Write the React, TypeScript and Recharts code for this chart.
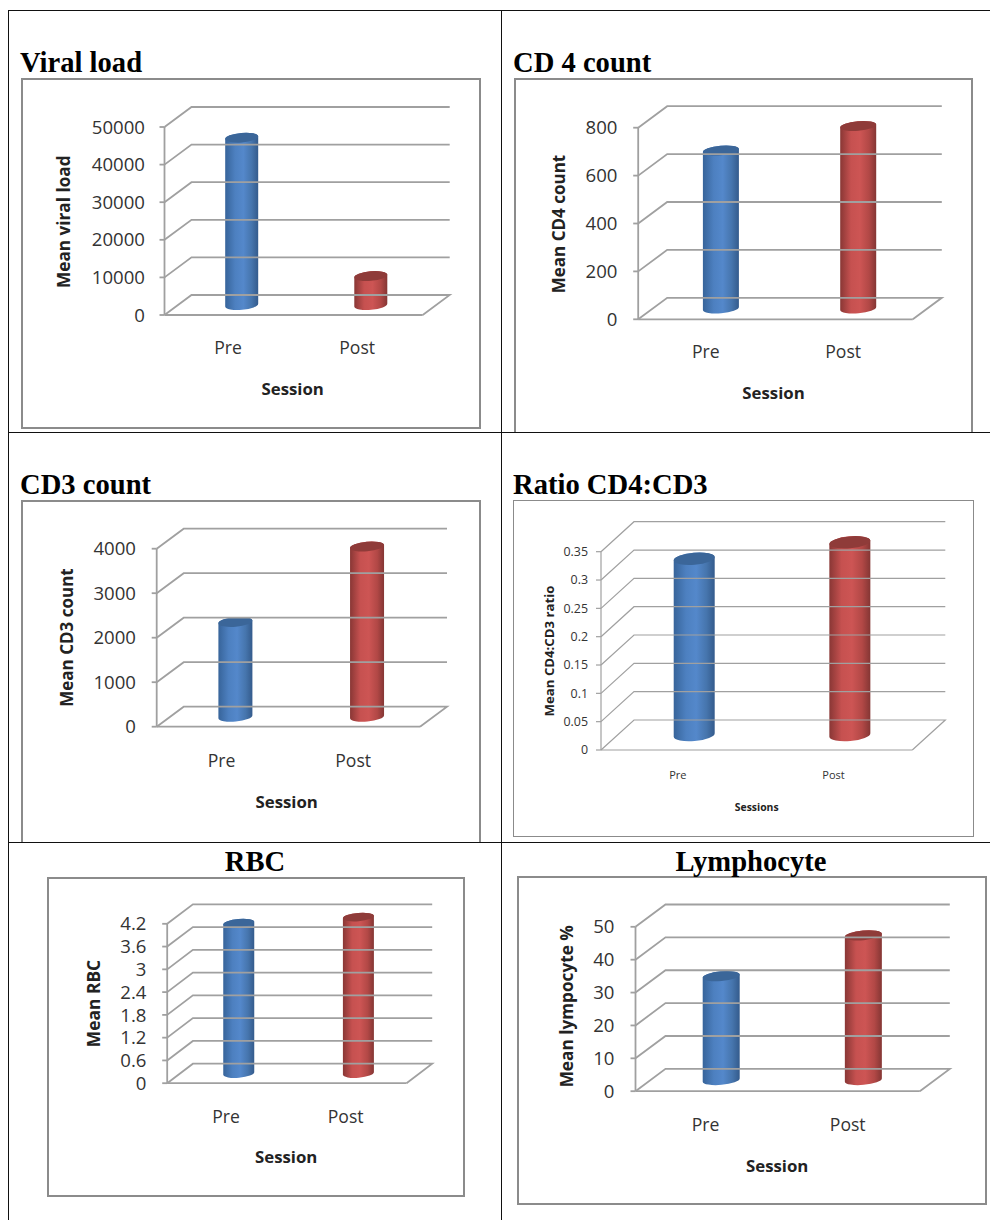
import React from "react";
import { BarChart, Bar, XAxis, YAxis } from "recharts";

const categories = ["Pre", "Post"];

const viralLoadValues = [44500, 7700];
const cd4Values = [660, 762];
const cd3Values = [2130, 3825];
const ratioValues = [0.311, 0.34];
const rbcValues = [3.96, 4.12];
const lymphocyteValues = [31.6, 44];

const viralLoadTicks = [0, 10000, 20000, 30000, 40000, 50000];
const cd4Ticks = [0, 200, 400, 600, 800];
const cd3Ticks = [0, 1000, 2000, 3000, 4000];
const ratioTicks = [0, 0.05, 0.1, 0.15, 0.2, 0.25, 0.3, 0.35];
const rbcTicks = [0, 0.6, 1.2, 1.8, 2.4, 3, 3.6, 4.2];
const lymphocyteTicks = [0, 10, 20, 30, 40, 50];

const SANS = "'Open Sans', sans-serif";
const GRID = "#a0a0a0";
const BORDER = "#8b8b8b";

type Panel = {
  id: string; values: number[]; ticks: number[]; yTitle: string; xTitle: string;
  box: number[]; x0: number; x1: number; y0: number; yTop: number; dx: number; dy: number;
  barW: number; ry: number; tickRight: number; labelDy: number; sessionX: number; sessionY: number;
  yTitleX: number; yTitleY: number; tickFs: number; catFs: number; titleFs: number; sessFs: number; bw: number; gw: number;
  open?: boolean;
};

const panels: Panel[] = [
  { id: "v", values: viralLoadValues, ticks: viralLoadTicks, yTitle: "Mean viral load", xTitle: "Session",
    box: [21, 78, 480.5, 428.5], x0: 164.5, x1: 422.7, y0: 315, yTop: 127, dx: 27, dy: 20, barW: 33, ry: 4.8,
    tickRight: 145, labelDy: 32.7, sessionX: 292.7, sessionY: 388, yTitleX: 64, yTitleY: 221.7,
    tickFs: 18.6, catFs: 17.6, titleFs: 17.2, sessFs: 16.8, bw: 2, gw: 1.8 },
  { id: "c4", values: cd4Values, ticks: cd4Ticks, yTitle: "Mean CD4 count", xTitle: "Session",
    box: [513.5, 78, 972.5, 432], x0: 637.7, x1: 912.3, y0: 319.3, yTop: 127.7, dx: 29, dy: 21.5, barW: 36, ry: 4.8,
    tickRight: 617, labelDy: 32.7, sessionX: 773, sessionY: 392, yTitleX: 558, yTitleY: 224,
    tickFs: 18.6, catFs: 17.6, titleFs: 17, sessFs: 16.8, bw: 2, gw: 1.8, open: true },
  { id: "c3", values: cd3Values, ticks: cd3Ticks, yTitle: "Mean CD3 count", xTitle: "Session",
    box: [21, 500, 480.5, 842], x0: 156.7, x1: 420, y0: 726.7, yTop: 548.7, dx: 27, dy: 20, barW: 34, ry: 4.8,
    tickRight: 136, labelDy: 34, sessionX: 286.7, sessionY: 801.5, yTitleX: 66, yTitleY: 637.5,
    tickFs: 18.6, catFs: 17.6, titleFs: 17, sessFs: 16.8, bw: 2, gw: 1.8, open: true },
  { id: "r", values: ratioValues, ticks: ratioTicks, yTitle: "Mean CD4:CD3 ratio", xTitle: "Sessions",
    box: [513, 500, 973.5, 836.5], x0: 601, x1: 912.3, y0: 750, yTop: 551.7, dx: 33, dy: 30, barW: 41, ry: 6,
    tickRight: 588, labelDy: 25, sessionX: 756.7, sessionY: 806.7, yTitleX: 549, yTitleY: 651,
    tickFs: 12.4, catFs: 11, titleFs: 13.2, sessFs: 10.4, bw: 1, gw: 1.2 },
  { id: "b", values: rbcValues, ticks: rbcTicks, yTitle: "Mean RBC", xTitle: "Session",
    box: [46.5, 876.5, 464.5, 1196.5], x0: 166.7, x1: 406, y0: 1082.7, yTop: 923.3, dx: 25.7, dy: 19.5, barW: 31, ry: 4.2,
    tickRight: 146, labelDy: 33, sessionX: 285.7, sessionY: 1156, yTitleX: 92.3, yTitleY: 1003,
    tickFs: 18.6, catFs: 17.6, titleFs: 17.4, sessFs: 16.8, bw: 2, gw: 1.8 },
  { id: "l", values: lymphocyteValues, ticks: lymphocyteTicks, yTitle: "Mean lympocyte %", xTitle: "Session",
    box: [516.5, 875.5, 986.5, 1204.5], x0: 635, x1: 919.3, y0: 1090.7, yTop: 926.3, dx: 30, dy: 22.3, barW: 37, ry: 4.8,
    tickRight: 614, labelDy: 33, sessionX: 776.7, sessionY: 1164.5, yTitleX: 566, yTitleY: 1005.8,
    tickFs: 18.6, catFs: 17.6, titleFs: 17.2, sessFs: 16.8, bw: 2, gw: 1.8 },
];

const headings = [
  { text: "Viral load", x: 20, base: 71, center: false },
  { text: "CD 4 count", x: 513, base: 71, center: false },
  { text: "CD3 count", x: 20, base: 493, center: false },
  { text: "Ratio CD4:CD3", x: 513, base: 493, center: false },
  { text: "RBC", x: 255, base: 870, center: true },
  { text: "Lymphocyte", x: 751, base: 870, center: true },
];

const tableLines = [
  [8, 10, 982, 1], [8, 432, 982, 1.4], [8, 842, 982, 1.4],
  [8, 10, 1, 1210], [501, 10, 1.2, 1210],
];

const blueStops = [["0", "#37649a"], ["0.3", "#4d80c0"], ["0.55", "#5488cb"], ["0.8", "#4675ad"], ["1", "#345b8c"]];
const redStops = [["0", "#893735"], ["0.3", "#c65150"], ["0.55", "#cd5554"], ["0.8", "#b24846"], ["1", "#843634"]];
const capColors = ["#3b6699", "#8f3b39"];

const TILT = -5;
const BAR_SHIFT = -0.8;
const LABEL_SHIFT = -1;

function cylinder(p: Panel) {
  return function Cyl(props: any) {
    const { x, y, width, height, index } = props;
    const rx = width / 2;
    const cx = x + rx + p.dx / 2 + BAR_SHIFT;
    const top = y - p.dy / 2;
    const bottom = y + height - p.dy / 2;
    const s = Math.sin((TILT * Math.PI) / 180) * rx;
    const gid = `g-${p.id}-${index}`;
    const stops = index === 0 ? blueStops : redStops;
    const body = `M${cx - rx} ${top - s} L${cx - rx} ${bottom - s} A${rx} ${p.ry} ${TILT} 0 0 ${cx + rx} ${bottom + s} L${cx + rx} ${top + s} A${rx} ${p.ry} ${TILT} 0 0 ${cx - rx} ${top - s} Z`;
    return (
      <g>
        <defs>
          <linearGradient id={gid} x1="0" x2="1" y1="0" y2="0">
            {stops.map((st) => <stop key={st[0]} offset={st[0]} stopColor={st[1]} />)}
          </linearGradient>
        </defs>
        <path d={body} fill={`url(#${gid})`} />
        <ellipse cx={cx} cy={top} rx={rx} ry={p.ry} fill={capColors[index]} transform={`rotate(${TILT} ${cx} ${top})`} />
      </g>
    );
  };
}

function yTick(p: Panel) {
  const px = p.x0 - p.box[0];
  const W = p.x1 - p.x0;
  const right = p.tickRight - p.box[0];
  return function T(props: any) {
    const { y, payload } = props;
    const isZero = payload.value === 0;
    return (
      <g>
        <path
          d={`M${px} ${y} L${px + p.dx} ${y - p.dy} L${px + p.dx + W} ${y - p.dy}${isZero ? ` L${px + W} ${y}` : ""}`}
          fill="none" stroke={GRID} strokeWidth={p.gw} />
        <text x={right} y={y + p.tickFs * 0.36} textAnchor="end" fontFamily={SANS} fontSize={p.tickFs} fill="#333">
          {payload.value}
        </text>
      </g>
    );
  };
}

function xTick(p: Panel) {
  return function T(props: any) {
    const { x, payload } = props;
    const y = p.y0 - p.box[1] + p.labelDy + p.catFs * 0.36;
    return (
      <text x={x + LABEL_SHIFT} y={y} textAnchor="middle" fontFamily={SANS} fontSize={p.catFs} fill="#333">
        {payload.value}
      </text>
    );
  };
}

function Chart({ p }: { p: Panel }) {
  const [l, t, r, b] = p.box;
  const w = r - l;
  const h = b - t;
  const yw = 40;
  const xh = 20;
  const rows = categories.map((name, i) => ({ name, value: p.values[i] }));
  const titleX = p.yTitleX - l;
  const titleY = p.yTitleY - t;
  return (
    <div style={{ position: "absolute", left: l, top: t, width: w, height: h }}>
      <BarChart
        width={w} height={h} data={rows}
        margin={{ left: p.x0 - l - yw, top: p.yTop - t, right: r - p.x1, bottom: b - p.y0 - xh }}
      >
        <XAxis
          dataKey="name" height={xh} interval={0} tickLine={false}
          axisLine={{ stroke: GRID, strokeWidth: p.gw }} tick={xTick(p)}
        />
        <YAxis
          type="number" width={yw} domain={[0, p.ticks[p.ticks.length - 1]]} ticks={p.ticks} interval={0}
          tickSize={5} tickLine={{ stroke: GRID, strokeWidth: p.gw }}
          axisLine={{ stroke: GRID, strokeWidth: p.gw }} tick={yTick(p)}
        />
        <Bar dataKey="value" barSize={p.barW} isAnimationActive={false} shape={cylinder(p)} />
        <text
          x={titleX} y={titleY} textAnchor="middle" dominantBaseline="central"
          transform={`rotate(-90 ${titleX} ${titleY})`}
          fontFamily={SANS} fontWeight={700} fontSize={p.titleFs} fill="#222"
        >
          {p.yTitle}
        </text>
        <text
          x={p.sessionX - l} y={p.sessionY - t} textAnchor="middle" dominantBaseline="central"
          fontFamily={SANS} fontWeight={700} fontSize={p.sessFs} fill="#222"
        >
          {p.xTitle}
        </text>
      </BarChart>
      <div style={{
        position: "absolute", left: 0, top: 0, width: w, height: h, boxSizing: "border-box",
        border: `${p.bw}px solid ${BORDER}`, borderBottom: p.open ? "none" : `${p.bw}px solid ${BORDER}`, pointerEvents: "none",
      }} />
    </div>
  );
}

export default function App() {
  return (
    <div style={{ position: "absolute", left: 0, top: 0, width: 990, height: 1220, background: "#fff", overflow: "hidden" }}>
      {panels.map((p) => <Chart key={p.id} p={p} />)}
      {tableLines.map((ln, i) => (
        <div key={i} style={{ position: "absolute", left: ln[0], top: ln[1], width: ln[2], height: ln[3], background: "#111" }} />
      ))}
      {headings.map((h) => (
        <div key={h.text} style={{
          position: "absolute", left: h.center ? h.x - 150 : h.x, width: h.center ? 300 : 400,
          textAlign: h.center ? "center" : "left", top: h.base - 23.4, lineHeight: "30px", whiteSpace: "nowrap",
          fontFamily: "'Liberation Serif', serif", fontWeight: 700, fontSize: 28.6, color: "#000",
        }}>{h.text}</div>
      ))}
    </div>
  );
}
